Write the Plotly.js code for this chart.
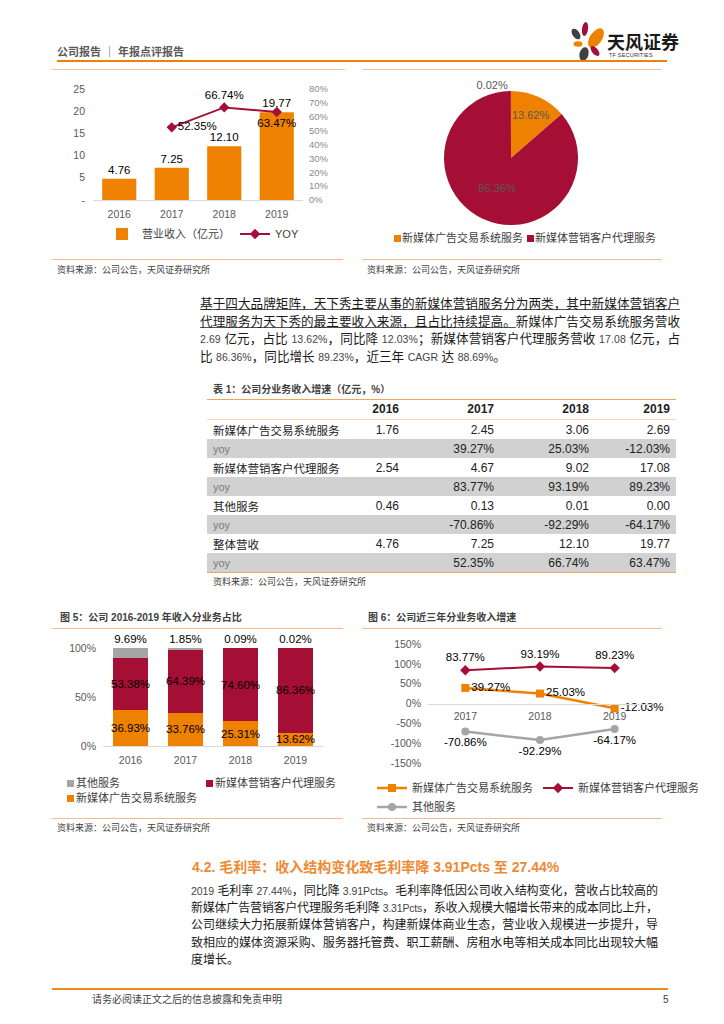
<!DOCTYPE html>
<html lang="zh-CN">
<head>
<meta charset="utf-8">
<script src="https://cdn.plot.ly/plotly-3.0.1.min.js"></script>
<style>
html,body{margin:0;padding:0;background:#fff}
body{width:724px;height:1024px;position:relative;overflow:hidden;font-family:"Liberation Sans","Noto Sans CJK SC",sans-serif;color:#1a1a1a}
.a{position:absolute;white-space:nowrap}
.rule{position:absolute;height:0}
.chart{position:absolute}
.src{position:absolute;font-size:9px;color:#404040;line-height:12px;white-space:nowrap}
.ttl{position:absolute;font-size:10px;font-weight:bold;color:#404040;line-height:12px;white-space:nowrap}
.fit{white-space:nowrap}
.n{font-size:10.5px;color:#444}
.lg{position:absolute;font-size:11px;color:#404040;line-height:14px;white-space:nowrap}
.sq{position:absolute;width:7px;height:7px}
.row{position:absolute;left:207px;width:469px;height:19px;display:flex;align-items:center;font-size:12px;color:#222}
.row div{box-sizing:border-box;white-space:nowrap}
.row .lab{width:93px;padding-left:6px;font-size:11.5px}
.row .c1{width:99px;text-align:right}
.row .c2{width:95px;text-align:right}
.row .c3{width:95px;text-align:right}
.row .c4{width:87px;text-align:right;padding-right:6px}
.row.g{background:#d1d1d1}
.row.g .lab{color:#7a7a7a;font-size:11px}
.row.h{font-weight:bold;font-size:12px}
</style>
</head>
<body>
<!-- header -->
<div class="a" style="left:57px;top:44px;font-size:11px;font-weight:bold;color:#595959;line-height:16px">公司报告 ｜ 年报点评报告</div>
<svg class="a" style="left:565px;top:15px" width="45" height="50" viewBox="565 15 45 50">
  <ellipse cx="585" cy="29" rx="3" ry="7" fill="#A50F36" transform="rotate(8 585 29)"/>
  <ellipse cx="596" cy="38" rx="6" ry="11" fill="#EE8100" transform="rotate(35 596 38)"/>
  <ellipse cx="576" cy="34" rx="3.5" ry="6" fill="#404040" transform="rotate(-35 576 34)"/>
  <ellipse cx="578" cy="44" rx="4.5" ry="2.7" fill="#EE8100"/>
  <ellipse cx="595" cy="51" rx="3" ry="6" fill="#A50F36" transform="rotate(-40 595 51)"/>
  <ellipse cx="584" cy="54" rx="4.5" ry="7" fill="#404040" transform="rotate(15 584 54)"/>
</svg>
<div class="a" style="left:607px;top:32px;font-size:18px;font-weight:bold;color:#1a1a1a;line-height:22px">天风证券</div>
<div class="a" style="left:609px;top:52px;font-size:5.5px;color:#333;line-height:7px;letter-spacing:0.2px">TF SECURITIES</div>
<div class="rule" style="left:57px;top:60px;width:610px;border-top:2.5px solid #EE8100"></div>
<div class="rule" style="left:52px;top:69px;width:293px;border-top:1px solid #F7C39A"></div>
<div class="rule" style="left:362px;top:69px;width:300px;border-top:1px solid #F7C39A"></div>

<!-- top charts -->
<div id="c1" class="chart" style="left:52px;top:75px;width:295px;height:175px"></div>
<div id="c2" class="chart" style="left:362px;top:75px;width:300px;height:175px"></div>
<div class="sq" style="left:394px;top:235px;background:#EE8100"></div>
<div class="lg" style="left:402px;top:231px">新媒体广告交易系统服务</div>
<div class="sq" style="left:527px;top:235px;background:#A50F36"></div>
<div class="lg" style="left:535px;top:231px">新媒体营销客户代理服务</div>
<div class="rule" style="left:52px;top:259px;width:291px;border-top:1px solid #F7B98A"></div>
<div class="rule" style="left:362px;top:259px;width:300px;border-top:1px solid #F7B98A"></div>
<div class="src" style="left:57px;top:264px">资料来源：公司公告，天风证券研究所</div>
<div class="src" style="left:367px;top:264px">资料来源：公司公告，天风证券研究所</div>

<!-- paragraph 1 -->
<div class="a" style="left:200px;top:296px;width:481px;font-size:12.6px;line-height:17.7px;white-space:normal;color:#1a1a1a">
<div class="fit" data-w="480" style="text-decoration:underline;text-decoration-color:#555">基于四大品牌矩阵，天下秀主要从事的新媒体营销服务分为两类，其中新媒体营销客户</div>
<div class="fit" data-w="480"><span style="text-decoration:underline;text-decoration-color:#555">代理服务为天下秀的最主要收入来源，且占比持续提高。</span>新媒体广告交易系统服务营收</div>
<div class="fit" data-w="480"><span class="n">2.69</span> 亿元，占比 <span class="n">13.62%</span>，同比降 <span class="n">12.03%</span>；新媒体营销客户代理服务营收 <span class="n">17.08</span> 亿元，占</div>
<div style="white-space:nowrap">比 <span class="n">86.36%</span>，同比增长 <span class="n">89.23%</span>，近三年 <span class="n">CAGR</span> 达 <span class="n">88.69%</span>。</div>
</div>

<!-- table -->
<div class="ttl" style="left:213px;top:384px">表 1：公司分业务收入增速（亿元，%）</div>
<div class="rule" style="left:207px;top:399px;width:469px;border-top:1.5px solid #F2A35E"></div>
<div id="tbl"></div>
<div class="rule" style="left:207px;top:419px;width:469px;border-top:1px solid #F9D5B5"></div>
<div class="rule" style="left:207px;top:572px;width:469px;border-top:1.5px solid #F2A35E"></div>
<div class="src" style="left:213px;top:576px">资料来源：公司公告，天风证券研究所</div>

<!-- bottom charts -->
<div class="ttl" style="left:60px;top:612px">图 5：公司 2016-2019 年收入分业务占比</div>
<div class="ttl" style="left:368px;top:612px">图 6：公司近三年分业务收入增速</div>
<div class="rule" style="left:52px;top:628px;width:291px;border-top:1px solid #F7B98A"></div>
<div class="rule" style="left:362px;top:628px;width:300px;border-top:1px solid #F7B98A"></div>
<div id="c5" class="chart" style="left:52px;top:632px;width:291px;height:150px"></div>
<div id="c6" class="chart" style="left:318px;top:632px;width:380px;height:185px"></div>
<div class="sq" style="left:67px;top:780px;background:#A5A5A5"></div>
<div class="lg" style="left:76px;top:776px">其他服务</div>
<div class="sq" style="left:206px;top:780px;background:#A50F36"></div>
<div class="lg" style="left:215px;top:776px">新媒体营销客户代理服务</div>
<div class="sq" style="left:67px;top:795px;background:#EE8100"></div>
<div class="lg" style="left:76px;top:791px">新媒体广告交易系统服务</div>
<div class="rule" style="left:52px;top:818px;width:291px;border-top:1px solid #F7B98A"></div>
<div class="rule" style="left:362px;top:818px;width:300px;border-top:1px solid #F7B98A"></div>
<div class="src" style="left:57px;top:822px">资料来源：公司公告，天风证券研究所</div>
<div class="src" style="left:367px;top:822px">资料来源：公司公告，天风证券研究所</div>

<!-- section 4.2 -->
<div class="a" style="left:192px;top:857px;font-size:14px;font-weight:bold;color:#EE8A33;line-height:20px">4.2. 毛利率：收入结构变化致毛利率降 3.91Pcts 至 27.44%</div>
<div class="a" style="left:191px;top:883px;width:470px;font-size:12px;line-height:17.2px;white-space:normal;color:#1a1a1a">
<div class="fit" data-w="467"><span class="n">2019</span> 毛利率 <span class="n">27.44%</span>，同比降 <span class="n">3.91Pcts</span>。毛利率降低因公司收入结构变化，营收占比较高的</div>
<div class="fit" data-w="467">新媒体广告营销客户代理服务毛利降 <span class="n">3.31Pcts</span>，系收入规模大幅增长带来的成本同比上升，</div>
<div class="fit" data-w="467">公司继续大力拓展新媒体营销客户，构建新媒体商业生态，营业收入规模进一步提升，导</div>
<div class="fit" data-w="467">致相应的媒体资源采购、服务器托管费、职工薪酬、房租水电等相关成本同比出现较大幅</div>
<div style="white-space:nowrap">度增长。</div>
</div>

<!-- footer -->
<div class="rule" style="left:52px;top:988px;width:616px;border-top:2px solid #F08A1C"></div>
<div class="a" style="left:92px;top:993px;font-size:10px;color:#404040;line-height:14px">请务必阅读正文之后的信息披露和免责申明</div>
<div class="a" style="left:663px;top:993px;font-size:10px;color:#404040;line-height:14px">5</div>

<script>
// ---------- data ----------
const ORANGE = '#EE8100', CRIMSON = '#A50F36', GRAY = '#A5A5A5';
const FONT = '"Liberation Sans", "Noto Sans CJK SC", sans-serif';

const years = ['2016', '2017', '2018', '2019'];
const revenue = [4.76, 7.25, 12.10, 19.77];
const revenueYoy = [null, 52.35, 66.74, 63.47];
const revTickVals = [0, 5, 10, 15, 20, 25];
const revTickText = ['-', '5', '10', '15', '20', '25'];
const yoyTickVals = [0, 10, 20, 30, 40, 50, 60, 70, 80];
const yoyTickText = ['0%', '10%', '20%', '30%', '40%', '50%', '60%', '70%', '80%'];

const pieLabels = ['新媒体广告交易系统服务', '新媒体营销客户代理服务', '其他服务'];
const pieShares = [13.62, 86.36, 0.02];

const shareAd = [36.93, 33.76, 25.31, 13.62];
const shareAgent = [53.38, 64.39, 74.60, 86.36];
const shareOther = [9.69, 1.85, 0.09, 0.02];
const shareTickVals = [0, 50, 100];
const shareTickText = ['0%', '50%', '100%'];

const growthYears = ['2017', '2018', '2019'];
const growthAd = [39.27, 25.03, -12.03];
const growthAgent = [83.77, 93.19, 89.23];
const growthOther = [-70.86, -92.29, -64.17];
const growthTickVals = [-150, -100, -50, 0, 50, 100, 150];
const growthTickText = ['-150%', '-100%', '-50%', '0%', '50%', '100%', '150%'];

const tableYears = ['2016', '2017', '2018', '2019'];
const rowAd = ['1.76', '2.45', '3.06', '2.69'];
const rowAdYoy = ['', '39.27%', '25.03%', '-12.03%'];
const rowAgent = ['2.54', '4.67', '9.02', '17.08'];
const rowAgentYoy = ['', '83.77%', '93.19%', '89.23%'];
const rowOther = ['0.46', '0.13', '0.01', '0.00'];
const rowOtherYoy = ['', '-70.86%', '-92.29%', '-64.17%'];
const rowTotal = ['4.76', '7.25', '12.10', '19.77'];
const rowTotalYoy = ['', '52.35%', '66.74%', '63.47%'];

const pct = v => (v == null ? '' : v.toFixed(2) + '%');
const cfg = {staticPlot: true, displayModeBar: false};
const TICK = {size: 10.5, color: '#595959'};
const LBL = {size: 11.5, color: '#000', family: FONT};
const clear = 'rgba(0,0,0,0)';

// ---------- fit justified text lines ----------
document.querySelectorAll('.fit').forEach(el => {
  const W = parseFloat(el.dataset.w);
  el.style.letterSpacing = '0px';
  const r = document.createRange();
  r.selectNodeContents(el);
  const w = r.getBoundingClientRect().width;
  const n = el.textContent.replace(/\s+/g, ' ').trim().length;
  el.style.letterSpacing = ((W - w) / Math.max(n - 1, 1)) + 'px';
});

// ---------- table ----------
(function () {
  const tbl = document.getElementById('tbl');
  const rows = [
    ['', tableYears, 'h'],
    ['新媒体广告交易系统服务', rowAd, ''],
    ['yoy', rowAdYoy, 'g'],
    ['新媒体营销客户代理服务', rowAgent, ''],
    ['yoy', rowAgentYoy, 'g'],
    ['其他服务', rowOther, ''],
    ['yoy', rowOtherYoy, 'g'],
    ['整体营收', rowTotal, ''],
    ['yoy', rowTotalYoy, 'g']
  ];
  rows.forEach((r, i) => {
    const d = document.createElement('div');
    d.className = 'row ' + r[2];
    d.style.top = (401 + 19 * i - (i === 0 ? 1 : 0)) + 'px';
    if (i === 0) d.style.height = '18px';
    let html = '<div class="lab">' + r[0] + '</div>';
    r[1].forEach((v, j) => { html += '<div class="c' + (j + 1) + '">' + v + '</div>'; });
    d.innerHTML = html;
    tbl.appendChild(d);
  });
})();

// ---------- chart 1: revenue + YOY ----------
Plotly.newPlot('c1', [
  {type: 'bar', x: years, y: revenue, name: '营业收入（亿元）', marker: {color: ORANGE},
   text: revenue.map(v => v.toFixed(2)), textposition: 'outside', textfont: LBL,
   cliponaxis: false, constraintext: 'none', hoverinfo: 'skip'},
  {type: 'scatter', mode: 'lines+markers', x: years, y: revenueYoy, yaxis: 'y2', name: 'YOY',
   line: {color: CRIMSON, width: 2}, marker: {symbol: 'diamond', size: 8, color: CRIMSON}, hoverinfo: 'skip'},
  {type: 'scatter', mode: 'markers+text', x: years, y: revenueYoy, yaxis: 'y2', showlegend: false,
   marker: {size: 8, opacity: 0}, text: revenueYoy.map(pct),
   textposition: ['middle right', 'middle right', 'top center', 'bottom center'],
   textfont: LBL, cliponaxis: false, hoverinfo: 'skip'}
], {
  width: 295, height: 175, margin: {l: 41, r: 44, t: 14, b: 50, autoexpand: false},
  paper_bgcolor: clear, plot_bgcolor: clear, font: {family: FONT, size: 11, color: '#595959'},
  bargap: 0.35,
  xaxis: {type: 'category', showline: true, linecolor: '#d9d9d9', ticks: '', tickfont: TICK, ticklabelstandoff: 4, showgrid: false},
  yaxis: {range: [0, 25], tickvals: revTickVals, ticktext: revTickText, showgrid: false, zeroline: false,
          tickfont: TICK, ticklabelstandoff: 7},
  yaxis2: {overlaying: 'y', side: 'right', range: [0, 80], tickvals: yoyTickVals, ticktext: yoyTickText,
           showgrid: false, zeroline: false, tickfont: {size: 9.5, color: '#8a8a8a'}, ticklabelstandoff: 5},
  legend: {orientation: 'h', x: 0.043, xanchor: 'left', y: -0.306, yanchor: 'middle',
           font: {size: 11, color: '#404040'}, bgcolor: clear}
}, cfg);

// ---------- chart 2: pie ----------
Plotly.newPlot('c2', [
  {type: 'pie', labels: pieLabels, values: pieShares, sort: false, direction: 'clockwise', rotation: 0,
   marker: {colors: [ORANGE, CRIMSON, GRAY], line: {width: 0}},
   texttemplate: '%{value:.2f}%', textposition: ['inside', 'inside', 'outside'],
   insidetextorientation: 'horizontal',
   textfont: {size: 11, color: '#595959', family: FONT}, showlegend: false, hoverinfo: 'skip'}
], {
  width: 300, height: 175, margin: {l: 82, r: 84, t: 16, b: 25, autoexpand: false},
  paper_bgcolor: clear, font: {family: FONT}, showlegend: false
}, cfg);

// ---------- chart 5: stacked share ----------
const barBase = {type: 'bar', x: years, textfont: LBL, textangle: 0, cliponaxis: false, constraintext: 'none', hoverinfo: 'skip'};
Plotly.newPlot('c5', [
  Object.assign({}, barBase, {y: shareAd, name: '新媒体广告交易系统服务', marker: {color: ORANGE},
    text: shareAd.map(pct), textposition: 'inside', insidetextanchor: 'middle'}),
  Object.assign({}, barBase, {y: shareAgent, name: '新媒体营销客户代理服务', marker: {color: CRIMSON},
    text: shareAgent.map(pct), textposition: 'inside', insidetextanchor: 'middle'}),
  Object.assign({}, barBase, {y: shareOther, name: '其他服务', marker: {color: GRAY},
    text: shareOther.map(pct), textposition: 'outside'})
], {
  width: 291, height: 150, margin: {l: 51, r: 20, t: 16, b: 36, autoexpand: false},
  paper_bgcolor: clear, plot_bgcolor: clear, font: {family: FONT, size: 11, color: '#595959'},
  barmode: 'stack', bargap: 0.35, showlegend: false,
  xaxis: {type: 'category', showline: true, linecolor: '#d9d9d9', ticks: '', tickfont: TICK, ticklabelstandoff: 4},
  yaxis: {range: [0, 100], tickvals: shareTickVals, ticktext: shareTickText, showgrid: false, zeroline: false,
          tickfont: TICK, ticklabelstandoff: 6}
}, cfg);

// ---------- chart 6: growth lines ----------
Plotly.newPlot('c6', [
  {type: 'scatter', mode: 'lines+markers', x: growthYears, y: growthAd, name: '新媒体广告交易系统服务',
   line: {color: ORANGE, width: 2.5}, marker: {symbol: 'square', size: 8, color: ORANGE}, hoverinfo: 'skip'},
  {type: 'scatter', mode: 'lines+markers', x: growthYears, y: growthAgent, name: '新媒体营销客户代理服务',
   line: {color: CRIMSON, width: 2}, marker: {symbol: 'diamond', size: 8, color: CRIMSON}, hoverinfo: 'skip'},
  {type: 'scatter', mode: 'lines+markers', x: growthYears, y: growthOther, name: '其他服务',
   line: {color: GRAY, width: 2.5}, marker: {symbol: 'circle', size: 8, color: GRAY}, hoverinfo: 'skip'},
  {type: 'scatter', mode: 'markers+text', x: growthYears, y: growthAd, showlegend: false, marker: {size: 8, opacity: 0},
   text: growthAd.map(pct), textposition: 'middle right', textfont: LBL, cliponaxis: false, hoverinfo: 'skip'},
  {type: 'scatter', mode: 'markers+text', x: growthYears, y: growthAgent, showlegend: false, marker: {size: 8, opacity: 0},
   text: growthAgent.map(pct), textposition: 'top center', textfont: LBL, cliponaxis: false, hoverinfo: 'skip'},
  {type: 'scatter', mode: 'markers+text', x: growthYears, y: growthOther, showlegend: false, marker: {size: 8, opacity: 0},
   text: growthOther.map(pct), textposition: 'bottom center', textfont: LBL, cliponaxis: false, hoverinfo: 'skip'}
], {
  width: 380, height: 185, margin: {l: 110, r: 46, t: 12, b: 54, autoexpand: false},
  paper_bgcolor: clear, plot_bgcolor: clear, font: {family: FONT, size: 11, color: '#595959'},
  xaxis: {type: 'category', range: [-0.5, 2.5], anchor: 'free', position: 0.5, showline: true, linecolor: '#d9d9d9',
          ticks: '', tickfont: TICK, ticklabelstandoff: 3, showgrid: false, zeroline: false},
  yaxis: {range: [-150, 150], tickvals: growthTickVals, ticktext: growthTickText, showgrid: false, zeroline: false,
          tickfont: TICK, ticklabelstandoff: 6},
  legend: {orientation: 'h', x: -0.25, xanchor: 'left', y: -0.088, yanchor: 'top',
           font: {size: 11, color: '#404040'}, bgcolor: clear}
}, cfg);
</script>
</body>
</html>
